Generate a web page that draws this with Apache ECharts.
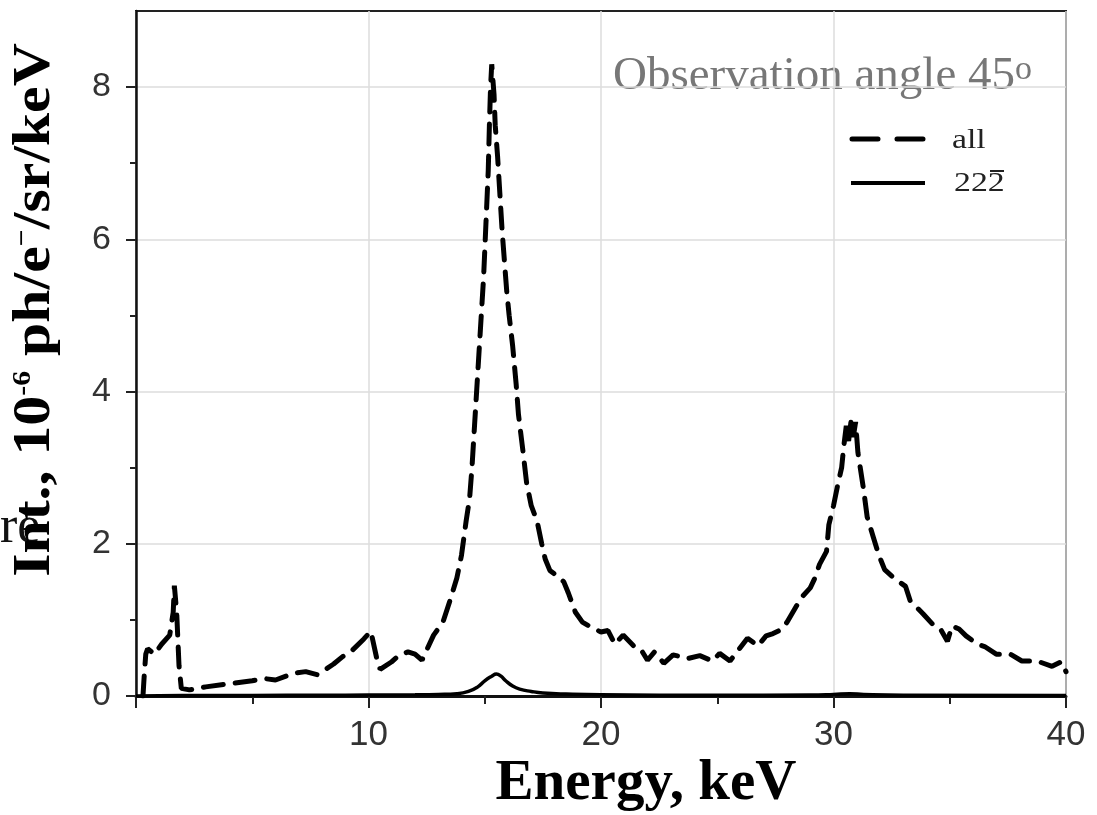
<!DOCTYPE html>
<html>
<head>
<meta charset="utf-8">
<script src="https://cdn.jsdelivr.net/npm/echarts@6/dist/echarts.min.js"></script>
<style>
  html, body { margin: 0; padding: 0; background: #fff; }
  #chart { width: 1097px; height: 815px; }
</style>
</head>
<body>
<div id="chart"></div>
<script>
// Photon spectrum at 45 degrees: total emission ("all") and the 222̄ reflection
const energyAll = [
  0.30, 0.35, 0.42, 0.50, 0.80, 1.10, 1.45, 1.60, 1.65, 1.75, 1.80, 1.85, 1.95,
  2.30, 3.00, 4.00, 5.00, 5.50, 6.00, 6.80, 7.30, 7.80, 8.50, 8.90, 9.30, 9.80,
  10.10, 10.35, 10.50, 11.00, 11.30, 11.70, 12.00, 12.30, 12.80, 13.20, 13.50,
  13.80, 14.00, 14.20, 14.35, 14.45, 14.55, 14.65, 14.75, 14.85, 14.95, 15.05,
  15.15, 15.20, 15.25, 15.30, 15.40, 15.45, 15.55, 15.65, 15.75, 15.85, 15.95,
  16.05, 16.20, 16.35, 16.45, 16.65, 16.80, 17.00, 17.25, 17.45, 17.60, 17.80,
  18.10, 18.40, 18.60, 18.90, 19.20, 19.60, 20.00, 20.30, 20.60, 20.95, 21.40,
  21.70, 22.00, 22.30, 22.70, 23.10, 23.40, 23.70, 24.25, 24.80, 25.10, 25.55,
  25.90, 26.30, 26.75, 27.10, 27.40, 27.80, 28.00, 28.40, 28.70, 29.00, 29.20,
  29.40, 29.70, 29.80, 30.00, 30.20, 30.35, 30.45, 30.55, 30.65, 30.75, 30.85,
  30.95, 31.05, 31.15, 31.30, 31.45, 31.70, 31.95, 32.20, 32.60, 33.10, 33.30,
  33.85, 34.30, 34.60, 34.90, 35.10, 35.40, 35.70, 36.20, 36.50, 37.00, 37.60,
  38.10, 38.75, 39.40, 39.80, 40.00
];
const intensityAll = [
  0.00, 0.25, 0.55, 0.62, 0.55, 0.68, 0.80, 1.10, 1.45, 1.10, 0.75, 0.40, 0.10,
  0.08, 0.12, 0.16, 0.20, 0.23, 0.21, 0.30, 0.32, 0.28, 0.42, 0.52, 0.60, 0.75,
  0.85, 0.50, 0.35, 0.45, 0.53, 0.58, 0.55, 0.47, 0.80, 0.97, 1.25,
  1.55, 1.85, 2.30, 2.60, 3.00, 3.50, 4.00, 4.50, 5.00, 5.50, 6.20,
  6.90, 7.50, 8.00, 8.30, 7.90, 7.50, 7.10, 6.60, 6.10, 5.70, 5.30,
  5.00, 4.60, 4.10, 3.70, 3.20, 2.80, 2.50, 2.30, 2.00, 1.80, 1.65,
  1.58, 1.50, 1.35, 1.10, 0.97, 0.90, 0.84, 0.86, 0.68, 0.80, 0.66,
  0.62, 0.47, 0.58, 0.43, 0.54, 0.52, 0.49, 0.53, 0.46, 0.56, 0.46,
  0.60, 0.76, 0.66, 0.79, 0.82, 0.88, 0.97, 1.18, 1.32, 1.42, 1.55,
  1.73, 1.90, 2.25, 2.50, 2.80, 3.00, 3.30, 3.55, 3.35, 3.60, 3.40,
  3.60, 3.20, 3.00, 2.70, 2.35, 2.10, 1.85, 1.66, 1.55, 1.44, 1.25,
  1.08, 0.93, 0.88, 0.72, 0.92, 0.88, 0.79, 0.68, 0.65, 0.55, 0.55,
  0.46, 0.46, 0.39, 0.45, 0.32
];

const energyRefl = [
  0, 2, 5, 8, 10, 12, 13, 13.8, 14.3, 14.7, 15.0, 15.3, 15.5, 15.7, 15.9, 16.2,
  16.5, 17, 17.5, 18.5, 20, 25, 29, 30, 30.7, 31.3, 33, 40
];
const intensityRefl = [
  0.000, 0.005, 0.008, 0.010, 0.012, 0.015, 0.020, 0.030, 0.060, 0.120, 0.200,
  0.260, 0.290, 0.260, 0.200, 0.130, 0.090, 0.060, 0.040, 0.025, 0.015, 0.010,
  0.012, 0.020, 0.030, 0.020, 0.010, 0.005
];

const xTickLabels = [10, 20, 30, 40];
const yTickLabels = [0, 2, 4, 6, 8];
const yMinorTicks = [1, 3, 5, 7];
// the reflection index 22(2-bar): digits drawn as text, the bar over the last digit as a stroke
const seriesNames = ['all', '222'];

const pairs = (xs, ys) => xs.map((x, i) => [x, ys[i]]);

const chart = echarts.init(document.getElementById('chart'), null, { renderer: 'canvas' });

const serif = "'Liberation Serif', 'Times New Roman', serif";
const sans = "'Liberation Sans', Arial, sans-serif";

chart.setOption({
  backgroundColor: '#ffffff',
  animation: false,
  grid: {
    left: 136, right: 31, top: 11, bottom: 119,
    show: true, borderColor: '#222', borderWidth: 2, backgroundColor: 'transparent'
  },
  xAxis: {
    type: 'value', min: 0, max: 40, interval: 10,
    axisLine: { onZero: false, lineStyle: { color: '#111', width: 3 } },
    axisTick: { inside: false, length: 12, lineStyle: { color: '#222', width: 2 } },
    minorTick: { show: true, splitNumber: 2, length: 8, lineStyle: { color: '#222', width: 2 } },
    splitLine: { show: true, lineStyle: { color: '#dddddd', width: 1.5 } },
    axisLabel: {
      margin: 22, color: '#333', fontFamily: sans, fontSize: 35,
      formatter: v => (xTickLabels.indexOf(v) >= 0 ? String(v) : '')
    }
  },
  yAxis: [{
    type: 'value', min: 0, max: 9, interval: 2,
    axisLine: { show: true, onZero: false, lineStyle: { color: '#111', width: 2.5 } },
    axisTick: { show: true, customValues: yTickLabels, length: 10, lineStyle: { color: '#222', width: 2 } },
    splitLine: { show: true, lineStyle: { color: '#dddddd', width: 1.5 } },
    axisLabel: {
      customValues: yTickLabels, margin: 25, color: '#333', fontFamily: sans, fontSize: 34
    }
  }, {
    // minor ticks at odd values
    type: 'value', min: 0, max: 9, position: 'left',
    axisLine: { show: false },
    axisTick: { show: true, customValues: yMinorTicks, length: 6, lineStyle: { color: '#222', width: 2 } },
    axisLabel: { show: false },
    splitLine: { show: false }
  }],
  series: [{
    name: seriesNames[0], type: 'line', data: pairs(energyAll, intensityAll),
    symbol: 'none', smooth: false, z: 3,
    lineStyle: { color: '#000', width: 5, type: [20, 12], cap: 'round' }
  }, {
    name: seriesNames[1], type: 'line', data: pairs(energyRefl, intensityRefl),
    symbol: 'none', smooth: true, z: 4,
    lineStyle: { color: '#000', width: 3.5, type: 'solid' }
  }],
  graphic: [
    {
      type: 'text', x: 0, y: 554,
      style: {
        text: 're', align: 'left', verticalAlign: 'bottom',
        fontFamily: serif, fontSize: 52, fill: '#111'
      }
    },
    // vertical axis title
    {
      type: 'text', x: 36, y: 310, rotation: Math.PI / 2, scaleX: 1.15,
      style: {
        text: '{b|Int., 10}{s|-6}{b| ph/e}{s|\u2212}{b|/sr/keV}',
        align: 'center', verticalAlign: 'middle',
        rich: {
          b: { fontFamily: serif, fontWeight: 'bold', fontSize: 52, fill: '#000' },
          s: { fontFamily: serif, fontWeight: 'bold', fontSize: 26, fill: '#000', verticalAlign: 'top', padding: [0, 0, 20, 0] }
        }
      }
    },
    // horizontal axis title
    {
      type: 'text', x: 646, y: 784,
      style: {
        text: 'Energy, keV', align: 'center', verticalAlign: 'middle',
        fontFamily: serif, fontWeight: 'bold', fontSize: 57, fill: '#000'
      }
    },
    // annotation
    {
      type: 'text', x: 613, y: 77,
      style: {
        text: '{t|Observation angle 45}{o|o}', align: 'left', verticalAlign: 'middle',
        rich: {
          t: { fontFamily: serif, fontSize: 47, fill: '#777' },
          o: { fontFamily: serif, fontSize: 34, fill: '#777', verticalAlign: 'top', padding: [0, 0, 14, 0] }
        }
      }
    },
    // legend
    {
      type: 'line', shape: { x1: 852, y1: 139, x2: 925, y2: 139 },
      style: { stroke: '#000', lineWidth: 5, lineDash: [26, 19], lineCap: 'round' }
    },
    {
      type: 'line', shape: { x1: 851, y1: 183, x2: 925, y2: 183 },
      style: { stroke: '#000', lineWidth: 4 }
    },
    {
      type: 'text', x: 952, y: 141, scaleX: 1.25,
      style: {
        text: seriesNames[0], align: 'left', verticalAlign: 'middle',
        fontFamily: serif, fontSize: 27, fill: '#222'
      }
    },
    {
      type: 'text', x: 954, y: 184, scaleX: 1.25,
      style: {
        text: seriesNames[1], align: 'left', verticalAlign: 'middle',
        fontFamily: serif, fontSize: 27, fill: '#222'
      }
    },
    {
      // bar over the last digit of the reflection index
      type: 'line', shape: { x1: 990, y1: 171, x2: 1004, y2: 171 },
      style: { stroke: '#222', lineWidth: 2 }
    }
  ]
});
</script>
</body>
</html>
